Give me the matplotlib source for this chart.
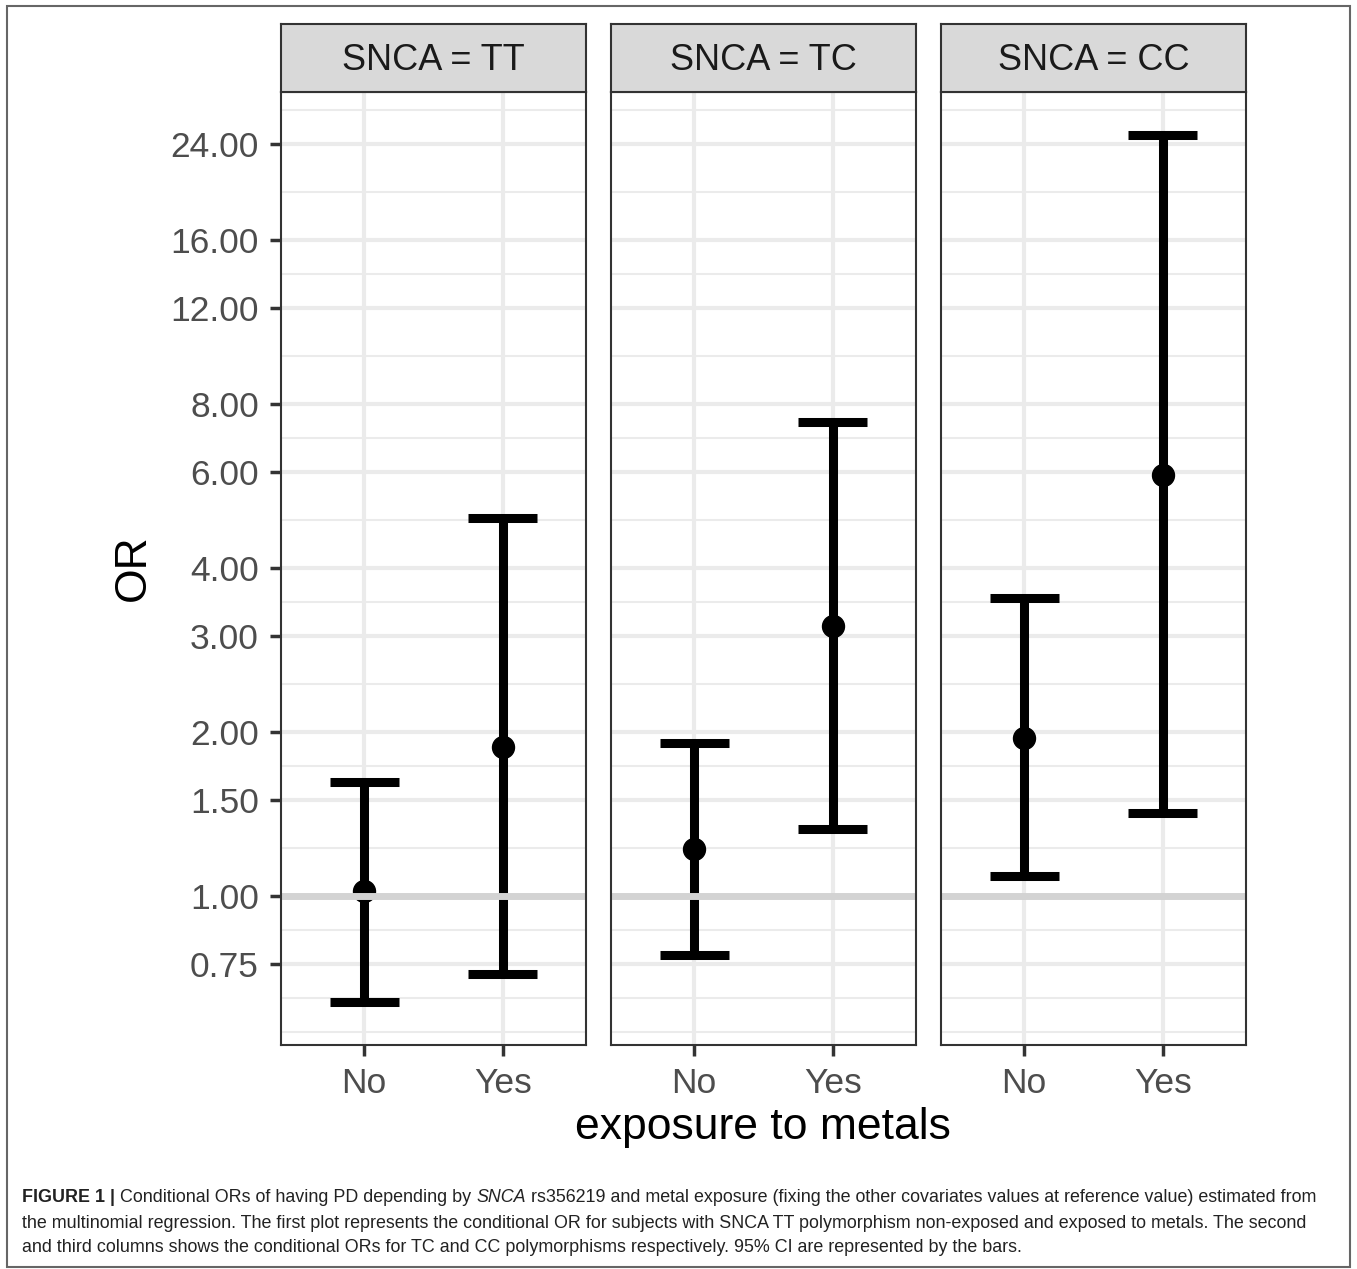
import numpy as np
import matplotlib
matplotlib.use('Agg')
import matplotlib.pyplot as plt

plt.rcParams['font.family'] = ['Liberation Sans', 'DejaVu Sans']

# data
genotypes = ['TT', 'TC', 'CC']
exposure = ['No', 'Yes']
or_est = [[1.02, 1.88], [1.22, 3.13], [1.95, 5.92]]
or_low = [[0.64, 0.72], [0.78, 1.33], [1.09, 1.42]]
or_high = [[1.62, 4.94], [1.91, 7.40], [3.53, 24.9]]
y_breaks = [0.75, 1, 1.5, 2, 3, 4, 6, 8, 12, 16, 24]

W, H = 1357, 1269
fig = plt.figure(figsize=(W/100, H/100), dpi=100)

# y limits like ggplot: 5% expansion in log space
lo = np.log(min(min(r) for r in or_low))
hi = np.log(max(max(r) for r in or_high))
pad = 0.05*(hi-lo)
ylim = (np.exp(lo-pad), np.exp(hi+pad))

# minor breaks: midpoints in log space, extended one step each way
lb = np.log(y_breaks)
step = lb[1]-lb[0]
ext = np.concatenate([[lb[0]-step], lb, [lb[-1]+step]])
minor = np.exp(np.concatenate([ext, (ext[:-1]+ext[1:])/2]))

grid_c = '#EBEBEB'
dark = '#333333'
panel_left = [281, 611, 941]
pw = 305
top, bottom = 92, 1045
strip_top = 24

for i, g in enumerate(genotypes):
    ax = fig.add_axes([panel_left[i]/W, (H-bottom)/H, pw/W, (bottom-top)/H])
    ax.set_yscale('log')
    ax.set_ylim(*ylim)
    ax.set_xlim(0.4, 2.6)
    xs = np.arange(1, len(exposure)+1)
    for m in minor:
        ax.axhline(m, color=grid_c, lw=1.5, zorder=0)
    for b in y_breaks:
        ax.axhline(b, color=grid_c, lw=3, zorder=0.5)
    for x in xs:
        ax.axvline(x, color=grid_c, lw=3, zorder=0.5)
    ax.vlines(xs, or_low[i], or_high[i], color='black', lw=6.5, zorder=2)
    ax.hlines(or_low[i], xs-0.25, xs+0.25, color='black', lw=6.5, zorder=2)
    ax.hlines(or_high[i], xs-0.25, xs+0.25, color='black', lw=6.5, zorder=2)
    ax.scatter(xs, or_est[i], s=250, color='black', zorder=3)
    ax.axhline(1, color='#D3D3D3', lw=5, zorder=4)

    ax.set_xticks(xs)
    ax.set_xticklabels(exposure)
    ax.yaxis.set_major_locator(matplotlib.ticker.FixedLocator(y_breaks))
    ax.yaxis.set_minor_locator(matplotlib.ticker.NullLocator())
    ax.tick_params(axis='both', length=8, width=2.5, color=dark,
                   labelsize=25.5, labelcolor='#4D4D4D', pad=8)
    if i == 0:
        ax.set_yticklabels(['%.2f' % b for b in y_breaks])
    else:
        ax.tick_params(axis='y', left=False, labelleft=False)
    for s in ax.spines.values():
        s.set_color(dark)
        s.set_linewidth(1.5)
        s.set_zorder(5)

    sax = fig.add_axes([panel_left[i]/W, (H-top)/H, pw/W, (top-strip_top)/H])
    sax.set_facecolor('#D9D9D9')
    sax.set_xticks([])
    sax.set_yticks([])
    for s in sax.spines.values():
        s.set_color(dark)
        s.set_linewidth(1.5)
    sax.text(0.5, 0.47, 'SNCA = ' + g, ha='center', va='center',
             fontsize=26, color='#1A1A1A', transform=sax.transAxes)

fig.text(133/W, 1-568/H, 'OR', rotation=90, ha='center', va='center', fontsize=32)
fig.text(763/W, 1-1128/H, 'exposure to metals', ha='center', va='center', fontsize=32)

# outer frame
fig.patches.append(plt.Rectangle((7/W, 2/H), 1343/W, 1-8/H, transform=fig.transFigure,
                                 fill=False, ec='#666666', lw=1.5))

# caption, drawn piece by piece
cap_lines = [
    [('FIGURE 1 | ', 'bold', 'normal'), ('Conditional ORs of having PD depending by ', 'normal', 'normal'),
     ('SNCA', 'normal', 'italic'),
     (' rs356219 and metal exposure (fixing the other covariates values at reference value) estimated from', 'normal', 'normal')],
    [('the multinomial regression. The first plot represents the conditional OR for subjects with SNCA TT polymorphism non-exposed and exposed to metals. The second', 'normal', 'normal')],
    [('and third columns shows the conditional ORs for TC and CC polymorphisms respectively. 95% CI are represented by the bars.', 'normal', 'normal')],
]
cap_y = [1198, 1223, 1248]
fig.canvas.draw()
r = fig.canvas.get_renderer()
for line, yy in zip(cap_lines, cap_y):
    x = 22
    for txt, wt, st in line:
        t = fig.text(x/W, 1-yy/H, txt, fontsize=12.9, fontweight=wt, fontstyle=st,
                     color='#222222', ha='left', va='center')
        bb = t.get_window_extent(renderer=r)
        x += bb.width

fig.savefig('out.png', dpi=100)
